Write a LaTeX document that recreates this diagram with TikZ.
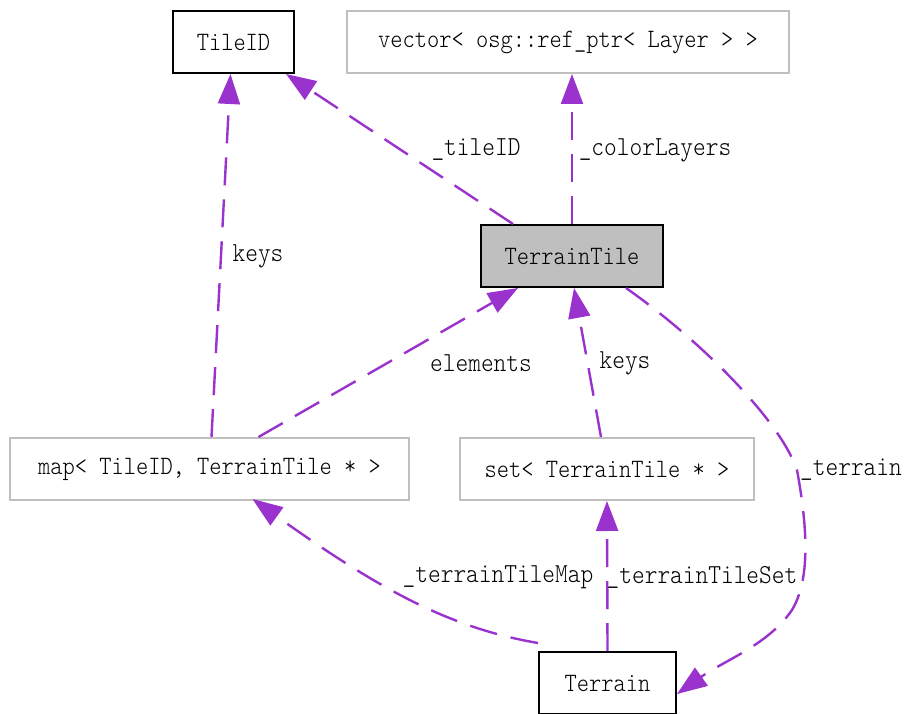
\documentclass[tikz,border=0pt]{standalone}
\usepackage{fontspec}
\setmonofont{Latin Modern Mono Light}[FakeStretch=0.88]
\usetikzlibrary{arrows.meta}
\definecolor{edgepurple}{HTML}{9A32CD}
\definecolor{boxgray}{HTML}{BFBFBF}
\begin{document}
\begin{tikzpicture}[x=1pt,y=-1pt,
  cls/.style={rectangle, draw=black, line width=2pt, inner sep=0pt,
    minimum height=62pt, font=\ttfamily\fontsize{26.5}{30}\selectfont},
  ext/.style={cls, draw=boxgray},
  focus/.style={cls, fill=boxgray},
  rel/.style={draw=edgepurple, line width=2.4pt, dash pattern=on 28pt off 14pt,
    -{Triangle[length=30pt,width=22pt]}},
  lbl/.style={inner sep=0pt, font=\ttfamily\fontsize{27.5}{31}\selectfont}]
\useasboundingbox (0,0) rectangle (905,714);

% class boxes
\node[cls, minimum width=121pt] (tileid) at (233.5,42) {TileID};
\node[ext, minimum width=442pt] (vec) at (568,42) {vector< osg::ref\_ptr< Layer > >};
\node[focus, minimum width=182pt] (tt) at (572,256) {TerrainTile};
\node[ext, minimum width=399pt] (map) at (209.5,469) {map< TileID, TerrainTile * >};
\node[ext, minimum width=294pt] (set) at (607,469) {set< TerrainTile * >};
\node[cls, minimum width=137pt] (terrain) at (607.5,683) {Terrain};

% relations
\draw[rel] ([xshift=-59pt]tt.north) -- ([xshift=-9pt]tileid.south east);
\draw[rel] (tt.north) -- ([xshift=4pt]vec.south);
\draw[rel] ([xshift=49pt]map.north) -- ([xshift=-54pt]tt.south);
\draw[rel] ([xshift=2pt]map.north) -- ([xshift=-3pt]tileid.south);
\draw[rel] ([xshift=-6pt]set.north) -- ([xshift=2pt]tt.south);
\draw[rel] ([yshift=8pt]terrain.north west) .. controls (450,628) and (380,590) .. ([xshift=43pt,yshift=2pt]map.south);
\draw[rel] (terrain.north) -- (set.south);
\draw[rel] ([xshift=-38pt]tt.south east) .. controls (700,340) and (780,420) .. (797,470)
  .. controls (808,530) and (810,580) .. (792,610)
  .. controls (768,645) and (725,660) .. ([yshift=-11pt]terrain.east);

% relation labels
\node[lbl] (l1) at (476,150) {\_tileID};
\node[lbl] (l2) at (655,150) {\_colorLayers};
\node[lbl] (l3) at (258,256) {keys};
\node[lbl] (l4) at (481,363) {elements};
\node[lbl] (l5) at (625,363) {keys};
\node[lbl] (l6) at (851,470) {\_terrain};
\node[lbl] (l7) at (498,577) {\_terrainTileMap};
\node[lbl] (l8) at (702,577) {\_terrainTileSet};
\end{tikzpicture}
\end{document}
